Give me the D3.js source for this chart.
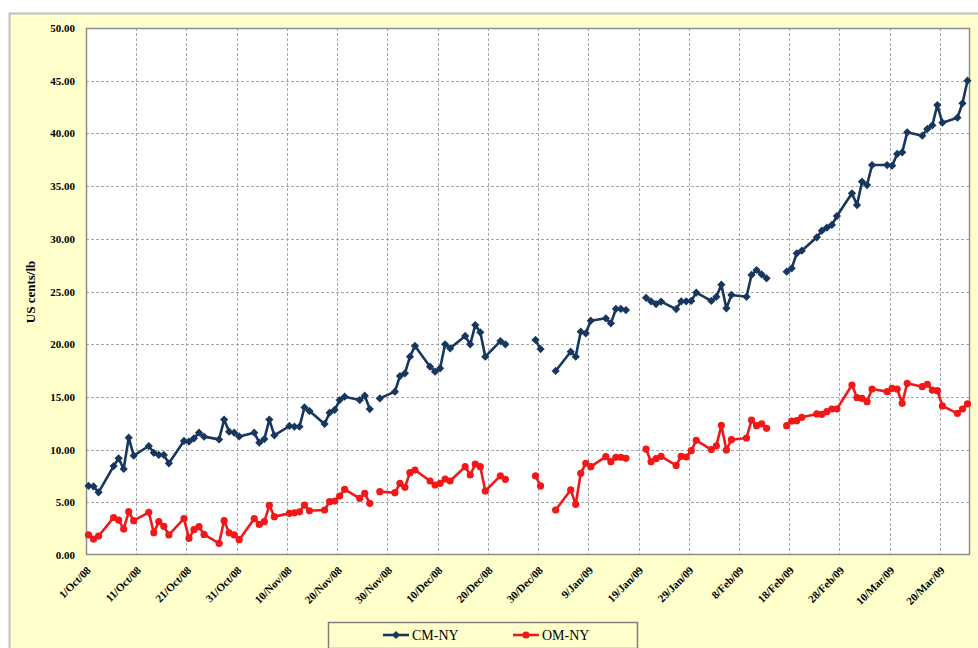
<!DOCTYPE html>
<html>
<head>
<meta charset="utf-8">
<script src="https://cdn.jsdelivr.net/npm/d3@7"></script>
<style>
    body { margin: 0; background: #ffffff; }
    svg text { font-family: "Liberation Serif", "Times New Roman", serif; }
</style>
</head>
<body>
<div id="chart"></div>
<script>
// trading days, Oct 2008 - Mar 2009 (holidays left in as empty cells)
var tradeDates = [
    "2008-10-01","2008-10-02","2008-10-03","2008-10-06","2008-10-07","2008-10-08","2008-10-09","2008-10-10",
    "2008-10-13","2008-10-14","2008-10-15","2008-10-16","2008-10-17","2008-10-20","2008-10-21","2008-10-22",
    "2008-10-23","2008-10-24","2008-10-27","2008-10-28","2008-10-29","2008-10-30","2008-10-31",
    "2008-11-03","2008-11-04","2008-11-05","2008-11-06","2008-11-07","2008-11-10","2008-11-11","2008-11-12",
    "2008-11-13","2008-11-14","2008-11-17","2008-11-18","2008-11-19","2008-11-20","2008-11-21","2008-11-24",
    "2008-11-25","2008-11-26","2008-11-27","2008-11-28",
    "2008-12-01","2008-12-02","2008-12-03","2008-12-04","2008-12-05","2008-12-08","2008-12-09","2008-12-10",
    "2008-12-11","2008-12-12","2008-12-15","2008-12-16","2008-12-17","2008-12-18","2008-12-19","2008-12-22",
    "2008-12-23","2008-12-24","2008-12-25","2008-12-26","2008-12-29","2008-12-30","2008-12-31",
    "2009-01-01","2009-01-02","2009-01-05","2009-01-06","2009-01-07","2009-01-08","2009-01-09","2009-01-12",
    "2009-01-13","2009-01-14","2009-01-15","2009-01-16","2009-01-19","2009-01-20","2009-01-21","2009-01-22",
    "2009-01-23","2009-01-26","2009-01-27","2009-01-28","2009-01-29","2009-01-30",
    "2009-02-02","2009-02-03","2009-02-04","2009-02-05","2009-02-06","2009-02-09","2009-02-10","2009-02-11",
    "2009-02-12","2009-02-13","2009-02-16","2009-02-17","2009-02-18","2009-02-19","2009-02-20","2009-02-23",
    "2009-02-24","2009-02-25","2009-02-26","2009-02-27",
    "2009-03-02","2009-03-03","2009-03-04","2009-03-05","2009-03-06","2009-03-09","2009-03-10","2009-03-11",
    "2009-03-12","2009-03-13","2009-03-16","2009-03-17","2009-03-18","2009-03-19","2009-03-20","2009-03-23",
    "2009-03-24","2009-03-25"
];

var cmValues = [
    6.55, 6.5, 5.95, 8.44, 9.17, 8.16, 11.13, 9.42, 10.34, 9.7, 9.49, 9.49, 8.7, 10.82, 10.76, 11.07,
    11.6, 11.23, 10.97, 12.85, 11.7, 11.6, 11.25,
    11.6, 10.66, 11.0, 12.85, 11.35, 12.24, 12.17, 12.17, 14.0, 13.66, 12.43, 13.5, 13.76, 14.7, 15.02, 14.7,
    15.12, 13.85, null, 14.86,
    15.5, 16.98, 17.24, 18.82, 19.83, 17.87, 17.39, 17.71, 19.99, 19.61, 20.78, 19.99, 21.82, 21.13, 18.82, 20.3,
    19.99, null, null, null, 20.4, 19.54, null,
    null, 17.46, 19.29, 18.82, 21.19, 21.03, 22.23, 22.46, 21.98, 23.34, 23.34, 23.24, null, 24.4, 24.07, 23.81,
    24.04, 23.33, 24.07, 24.07, 24.1, 24.9,
    24.1, 24.5, 25.65, 23.4, 24.67, 24.5, 26.57, 27.04, 26.63, 26.25, null, 26.88, 27.2, 28.62, 28.87, 30.14,
    30.77, 31.05, 31.31, 32.16,
    34.32, 33.2, 35.42, 35.1, 37.0, 37.0, 36.94, 38.05, 38.2, 40.1, 39.78, 40.42, 40.77, 42.69, 41.02, 41.49,
    42.86, 45.0
];

var omValues = [
    1.9, 1.52, 1.8, 3.55, 3.32, 2.46, 4.11, 3.26, 4.05, 2.12, 3.16, 2.72, 1.9, 3.45, 1.58, 2.4,
    2.69, 1.95, 1.11, 3.26, 2.1, 1.9, 1.45,
    3.45, 2.9, 3.16, 4.7, 3.64, 3.95, 4.0, 4.1, 4.74, 4.2, 4.27, 5.06, 5.12, 5.6, 6.23, 5.38,
    5.85, 4.9, null, 6.01,
    5.91, 6.8, 6.42, 7.81, 8.06, 7.02, 6.64, 6.8, 7.21, 7.02, 8.38, 7.59, 8.63, 8.38, 6.07, 7.5,
    7.18, null, null, null, 7.5, 6.55, null,
    null, 4.27, 6.17, 4.81, 7.75, 8.7, 8.38, 9.33, 8.85, 9.27, 9.27, 9.17, null, 10.05, 8.85, 9.14,
    9.36, 8.5, 9.36, 9.3, 9.9, 10.88,
    10.0, 10.35, 12.3, 9.96, 10.94, 11.1, 12.8, 12.27, 12.45, 12.02, null, 12.27, 12.71, 12.74, 13.06, 13.38,
    13.35, 13.6, 13.85, 13.85,
    16.13, 14.93, 14.86, 14.55, 15.75, 15.5, 15.81, 15.75, 14.39, 16.29, 15.97, 16.2, 15.65, 15.59, 14.14, 13.44,
    13.85, 14.33
];

var seriesNames = ["CM-NY", "OM-NY"];
var seriesColors = ["#17375e", "#f01818"];

var tickDates = [
    "2008-10-01","2008-10-11","2008-10-21","2008-10-31","2008-11-10","2008-11-20","2008-11-30","2008-12-10",
    "2008-12-20","2008-12-30","2009-01-09","2009-01-19","2009-01-29","2009-02-08","2009-02-18","2009-02-28",
    "2009-03-10","2009-03-20"
];
var yTicks = [0, 5, 10, 15, 20, 25, 30, 35, 40, 45, 50];

var width = 978, height = 648;
var plot = { left: 86, top: 28, right: 970, bottom: 555 };
var parse = d3.utcParse("%Y-%m-%d");
var HALF_DAY = 12 * 3600 * 1000;

var svg = d3.select("#chart").append("svg")
    .attr("width", width)
    .attr("height", height);

// outer chart area
svg.append("rect")
    .attr("x", 9.5)
    .attr("y", 13.5)
    .attr("width", width)
    .attr("height", height)
    .attr("fill", "#ffffcc")
    .attr("stroke", "#c0c0c0")
    .attr("stroke-width", 2);

svg.append("rect")
    .attr("x", plot.left)
    .attr("y", plot.top)
    .attr("width", plot.right - plot.left)
    .attr("height", plot.bottom - plot.top)
    .attr("fill", "#ffffff");

var x = d3.scaleUtc()
    .domain([parse("2008-10-01"), parse("2009-03-26")])
    .range([plot.left, plot.right]);

var y = d3.scaleLinear()
    .domain([0, 50])
    .range([plot.bottom, plot.top]);

// grid lines
var grid = svg.append("g").attr("class", "grid");
grid.selectAll("line.h")
    .data(yTicks.slice(1, -1))
    .enter().append("line")
    .attr("class", "h")
    .attr("x1", plot.left)
    .attr("x2", plot.right)
    .attr("y1", function(d){ return Math.round(y(d)) + 0.5; })
    .attr("y2", function(d){ return Math.round(y(d)) + 0.5; })
    .attr("stroke", "#a6a6a6")
    .attr("stroke-dasharray", "3,2");

grid.selectAll("line.v")
    .data(tickDates.slice(1))
    .enter().append("line")
    .attr("class", "v")
    .attr("x1", function(d){ return Math.round(x(parse(d))) + 0.5; })
    .attr("x2", function(d){ return Math.round(x(parse(d))) + 0.5; })
    .attr("y1", plot.top)
    .attr("y2", plot.bottom)
    .attr("stroke", "#a6a6a6")
    .attr("stroke-dasharray", "3,2");

// plot border
svg.append("rect")
    .attr("x", plot.left + 0.5)
    .attr("y", plot.top + 0.5)
    .attr("width", plot.right - plot.left - 1)
    .attr("height", plot.bottom - plot.top - 1)
    .attr("fill", "none")
    .attr("stroke", "#8c8c8c")
    .attr("stroke-width", 1.5);

// y axis
var yAxis = svg.append("g")
    .attr("transform", "translate(" + plot.left + ",0)")
    .call(d3.axisLeft(y).tickValues(yTicks).tickSize(0).tickPadding(11)
        .tickFormat(d3.format(".2f")));
yAxis.select(".domain").remove();
yAxis.selectAll("text")
    .attr("font-family", "Liberation Serif, serif")
    .attr("font-size", 11)
    .attr("font-weight", "bold")
    .attr("fill", "#000");

// x axis
var xAxis = svg.append("g")
    .attr("transform", "translate(0," + plot.bottom + ")")
    .call(d3.axisBottom(x).tickValues(tickDates.map(parse)).tickSize(0)
        .tickFormat(d3.utcFormat("%-d/%b/%y")));
xAxis.select(".domain").remove();
xAxis.selectAll("text")
    .attr("font-family", "Liberation Serif, serif")
    .attr("font-size", 11)
    .attr("font-weight", "bold")
    .attr("fill", "#000")
    .attr("text-anchor", "end")
    .attr("dy", 0)
    .attr("y", 0)
    .attr("transform", "translate(5,16) rotate(-45)");

svg.append("text")
    .attr("transform", "translate(35,292) rotate(-90)")
    .attr("text-anchor", "middle")
    .attr("font-size", 13)
    .attr("font-weight", "bold")
    .text("US cents/lb");

// series
var series = [cmValues, omValues].map(function(vals, i){
    return {
        name: seriesNames[i],
        color: seriesColors[i],
        points: tradeDates.map(function(d, j){
            return { date: new Date(parse(d).getTime() + HALF_DAY), v: vals[j] };
        })
    };
});

var line = d3.line()
    .defined(function(d){ return d.v != null; })
    .x(function(d){ return x(d.date); })
    .y(function(d){ return y(d.v); });

var diamond = d3.symbol().type(d3.symbolSquare).size(34);

function drawMarker(g, idx, cx, cy, color){
    if (idx === 0){
        g.append("path")
            .attr("d", diamond())
            .attr("transform", "translate(" + cx + "," + cy + ") rotate(45)")
            .attr("fill", color);
    } else {
        g.append("circle")
            .attr("cx", cx)
            .attr("cy", cy)
            .attr("r", 3.6)
            .attr("fill", color);
    }
}

series.forEach(function(s, i){
    var g = svg.append("g").attr("class", "series-" + i);
    g.append("path")
        .attr("d", line(s.points))
        .attr("fill", "none")
        .attr("stroke", s.color)
        .attr("stroke-width", 2.6)
        .attr("stroke-linejoin", "round");
    s.points.forEach(function(p){
        if (p.v == null) return;
        drawMarker(g, i, x(p.date), y(p.v), s.color);
    });
});

// legend
var legend = svg.append("g");
legend.append("rect")
    .attr("x", 328.5)
    .attr("y", 622.5)
    .attr("width", 309)
    .attr("height", 26)
    .attr("fill", "#ffffcc")
    .attr("stroke", "#7f7f7f")
    .attr("stroke-width", 1.5);

var legendX = [383, 513];
series.forEach(function(s, i){
    var lx = legendX[i], ly = 635;
    legend.append("line")
        .attr("x1", lx)
        .attr("x2", lx + 26)
        .attr("y1", ly)
        .attr("y2", ly)
        .attr("stroke", s.color)
        .attr("stroke-width", 2.6);
    drawMarker(legend, i, lx + 13, ly, s.color);
    legend.append("text")
        .attr("x", lx + 29)
        .attr("y", ly + 5)
        .attr("font-size", 14)
        .attr("fill", "#000")
        .text(s.name);
});
</script>
</body>
</html>
